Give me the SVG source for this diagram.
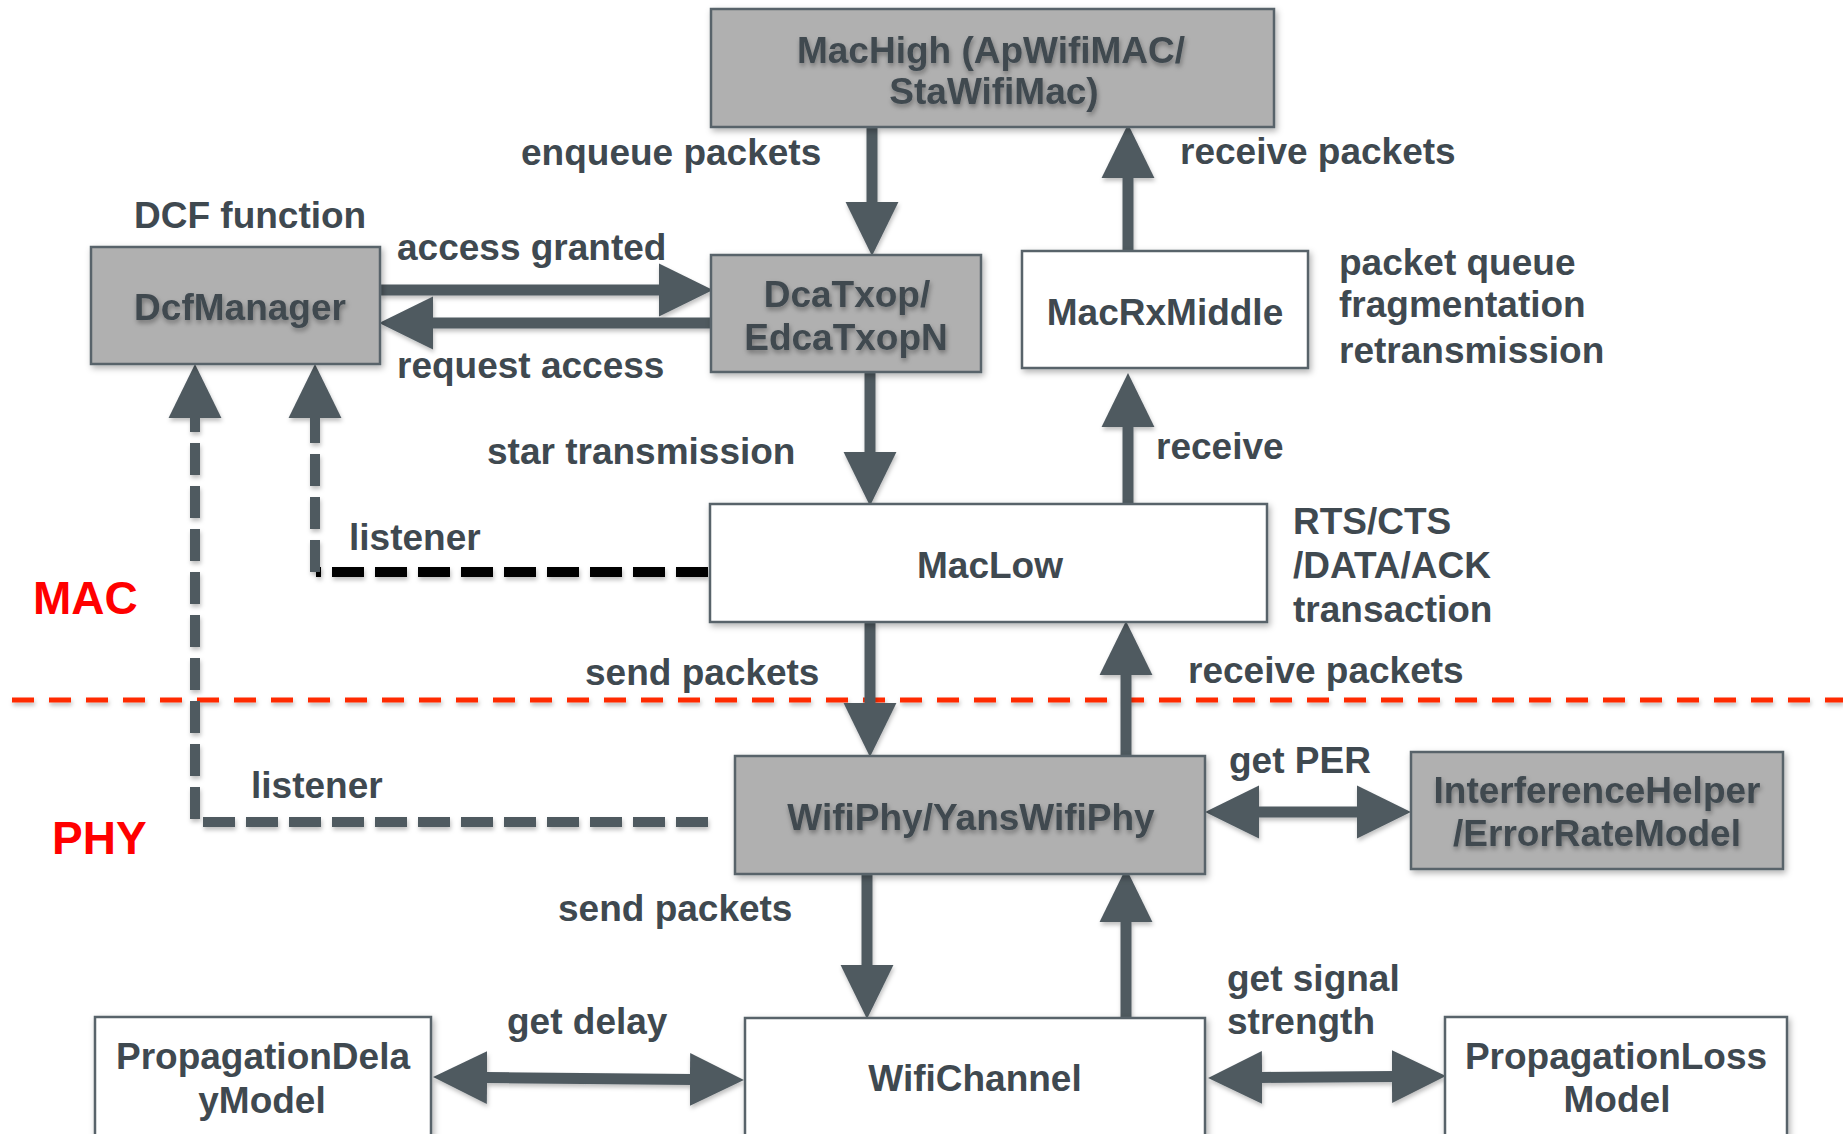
<svg xmlns="http://www.w3.org/2000/svg" width="1843" height="1134" viewBox="0 0 1843 1134">
  <defs>
    <style>
      text { font-family: "Liberation Sans", Arial, sans-serif; font-weight: bold; font-size: 37px; fill: #3f4950; }
      .mid { text-anchor: middle; }
      .layer { font-size: 46px; fill: #ff0000; }
      .box { stroke: #59636a; stroke-width: 2.5; filter: url(#boxShadow); }
      .grey { fill: #b0b0b0; }
      .white { fill: #ffffff; }
      .soft { filter: url(#textShadow); }
      .flow { stroke: #4f5a61; stroke-width: 11; fill: none; filter: url(#lineShadow); }
      .dash { stroke: #4f5a61; stroke-width: 10; fill: none; stroke-dasharray: 32 11; filter: url(#lineShadow); }
      .dashBlack { stroke: #000000; stroke-width: 10; fill: none; stroke-dasharray: 32 11; filter: url(#lineShadow); }
      .divider { stroke: #ff2a00; stroke-width: 5; fill: none; stroke-dasharray: 22 15; filter: url(#lineShadow); }
    </style>
    <filter id="boxShadow" filterUnits="userSpaceOnUse" x="0" y="0" width="1843" height="1134">
      <feDropShadow dx="2" dy="3" stdDeviation="3" flood-color="#000" flood-opacity="0.3"/>
    </filter>
    <filter id="textShadow" filterUnits="userSpaceOnUse" x="0" y="0" width="1843" height="1134">
      <feDropShadow dx="1" dy="3" stdDeviation="2.5" flood-color="#000" flood-opacity="0.35"/>
    </filter>
    <filter id="lineShadow" filterUnits="userSpaceOnUse" x="0" y="0" width="1843" height="1134">
      <feDropShadow dx="1" dy="3" stdDeviation="2" flood-color="#000" flood-opacity="0.25"/>
    </filter>
    <marker id="head" markerUnits="userSpaceOnUse" markerWidth="54" markerHeight="54" viewBox="0 0 52 51" refX="2" refY="25.5" orient="auto-start-reverse">
      <path d="M0,0 L52,25.5 L0,51 Z" fill="#4f5a61"/>
    </marker>
  </defs>

  <!-- MAC / PHY boundary -->
  <line class="divider" x1="12" y1="700" x2="1843" y2="700"/>

  <!-- connectors -->
  <g id="connectors">
    <line class="flow" x1="872" y1="127" x2="872" y2="204" marker-end="url(#head)"/>
    <line class="flow" x1="1128" y1="251" x2="1128" y2="176" marker-end="url(#head)"/>
    <line class="flow" x1="380" y1="290" x2="661" y2="290" marker-end="url(#head)"/>
    <line class="flow" x1="711" y1="323" x2="431" y2="323" marker-end="url(#head)"/>
    <line class="flow" x1="870" y1="372" x2="870" y2="454" marker-end="url(#head)"/>
    <line class="flow" x1="1128" y1="504" x2="1128" y2="425" marker-end="url(#head)"/>
    <line class="flow" x1="870" y1="622" x2="870" y2="705" marker-end="url(#head)"/>
    <line class="flow" x1="1126" y1="756" x2="1126" y2="673" marker-end="url(#head)"/>
    <line class="flow" x1="1257" y1="812" x2="1359" y2="812" marker-start="url(#head)" marker-end="url(#head)"/>
    <line class="flow" x1="867" y1="874" x2="867" y2="967" marker-end="url(#head)"/>
    <line class="flow" x1="1126" y1="1018" x2="1126" y2="920" marker-end="url(#head)"/>
    <line class="flow" x1="485" y1="1077.5" x2="692" y2="1079.5" marker-start="url(#head)" marker-end="url(#head)"/>
    <line class="flow" x1="1260" y1="1077.5" x2="1394" y2="1076.5" marker-start="url(#head)" marker-end="url(#head)"/>
    <!-- listener links -->
    <line class="dashBlack" x1="708" y1="572" x2="316" y2="572"/>
    <path class="dash" d="M315,572 L315,416" marker-end="url(#head)"/>
    <path class="dash" d="M708,822 L195,822 L195,416" marker-end="url(#head)"/>
  </g>

  <!-- nodes -->
  <g id="machigh">
    <rect class="box grey" x="711" y="9" width="563" height="118"/>
    <text class="mid soft" x="991" y="63">MacHigh (ApWifiMAC/</text>
    <text class="mid soft" x="994" y="104">StaWifiMac)</text>
  </g>
  <g id="dcfmanager">
    <rect class="box grey" x="91" y="247" width="289" height="117"/>
    <text class="mid soft" x="240" y="320">DcfManager</text>
  </g>
  <g id="dcatxop">
    <rect class="box grey" x="711" y="255" width="270" height="117"/>
    <text class="mid soft" x="847" y="307">DcaTxop/</text>
    <text class="mid soft" x="846" y="350">EdcaTxopN</text>
  </g>
  <g id="macrxmiddle">
    <rect class="box white" x="1022" y="251" width="286" height="117"/>
    <text class="mid" x="1165" y="325">MacRxMiddle</text>
  </g>
  <g id="maclow">
    <rect class="box white" x="710" y="504" width="557" height="118"/>
    <text class="mid" x="990" y="578">MacLow</text>
  </g>
  <g id="wifiphy">
    <rect class="box grey" x="735" y="756" width="470" height="118"/>
    <text class="mid soft" x="971" y="830">WifiPhy/YansWifiPhy</text>
  </g>
  <g id="interference">
    <rect class="box grey" x="1411" y="752" width="372" height="117"/>
    <text class="mid soft" x="1597" y="803">InterferenceHelper</text>
    <text class="mid soft" x="1597" y="846">/ErrorRateModel</text>
  </g>
  <g id="propdelay">
    <rect class="box white" x="95" y="1017" width="336" height="140"/>
    <text class="mid" x="263" y="1069">PropagationDela</text>
    <text class="mid" x="262" y="1113">yModel</text>
  </g>
  <g id="wifichannel">
    <rect class="box white" x="745" y="1018" width="460" height="140"/>
    <text class="mid" x="975" y="1091">WifiChannel</text>
  </g>
  <g id="proploss">
    <rect class="box white" x="1445" y="1017" width="342" height="140"/>
    <text class="mid" x="1616" y="1069">PropagationLoss</text>
    <text class="mid" x="1617" y="1112">Model</text>
  </g>

  <!-- labels -->
  <g id="labels">
    <text x="521" y="165">enqueue packets</text>
    <text x="1180" y="164">receive packets</text>
    <text x="134" y="228">DCF function</text>
    <text x="397" y="260">access granted</text>
    <text x="397" y="378">request access</text>
    <text x="1339" y="275">packet queue</text>
    <text x="1339" y="317">fragmentation</text>
    <text x="1339" y="363">retransmission</text>
    <text x="487" y="464">star transmission</text>
    <text x="1156" y="459">receive</text>
    <text x="349" y="550">listener</text>
    <text x="1293" y="534">RTS/CTS</text>
    <text x="1293" y="578">/DATA/ACK</text>
    <text x="1293" y="622">transaction</text>
    <text x="585" y="685">send packets</text>
    <text x="1188" y="683">receive packets</text>
    <text x="1229" y="773">get PER</text>
    <text x="251" y="798">listener</text>
    <text x="558" y="921">send packets</text>
    <text x="507" y="1034">get delay</text>
    <text x="1227" y="991">get signal</text>
    <text x="1227" y="1034">strength</text>
    <text class="layer" x="33" y="614">MAC</text>
    <text class="layer" x="52" y="854">PHY</text>
  </g>
</svg>
